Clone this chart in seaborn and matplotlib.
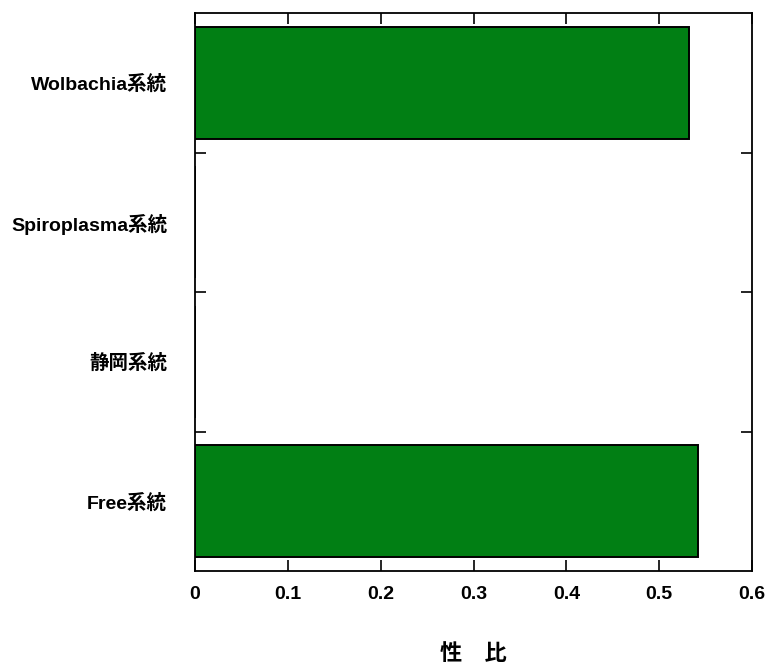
import matplotlib
matplotlib.use("Agg")
import matplotlib.pyplot as plt
import seaborn as sns
import pandas as pd
import numpy as np
from matplotlib.ticker import FixedLocator

categories = ["Wolbachia系統", "Spiroplasma系統", "静岡系統", "Free系統"]
values = [0.532, 0.0, 0.0, 0.542]
xticks = [0, 0.1, 0.2, 0.3, 0.4, 0.5, 0.6]
xticklabels = ["0", "0.1", "0.2", "0.3", "0.4", "0.5", "0.6"]
xlabel = "性　比"

sns.set_style("white")
plt.rcParams['font.family'] = ['Liberation Sans', 'Noto Sans CJK JP', 'DejaVu Sans']
plt.rcParams['text.color'] = 'black'
plt.rcParams['axes.labelcolor'] = 'black'
plt.rcParams['xtick.color'] = 'black'
plt.rcParams['ytick.color'] = 'black'

df = pd.DataFrame({"cat": categories, "val": values})

fig = plt.figure(figsize=(7.68, 6.65), dpi=100)
ax = fig.add_axes([195/768, 1-571/665, (752-195)/768, (571-13)/665])

sns.barplot(data=df, y="cat", x="val", orient="h", color="#017f14",
            saturation=1, edgecolor="black", linewidth=1.4, width=0.8, ax=ax)

ax.set_xlim(0, 0.6)
ax.set_ylim(len(categories) - 0.5, -0.5)
ax.set_xticks(xticks)
ax.set_xticklabels(xticklabels, fontsize=14, fontweight="bold")
ax.set_yticks(range(len(categories)))
ax.set_yticklabels(categories, fontsize=14, fontweight="bold")
ax.yaxis.set_minor_locator(FixedLocator([0.5, 1.5, 2.5]))

ax.tick_params(axis="y", which="major", length=0, pad=20, colors="black")
ax.tick_params(axis="y", which="minor", length=8, width=1.2, direction="in",
               left=True, right=True, color="black")
ax.tick_params(axis="x", which="major", length=8, width=1.2, direction="in",
               top=True, bottom=True, pad=11, colors="black")

for s in ax.spines.values():
    s.set_visible(True)
    s.set_color("black")
    s.set_linewidth(1.3)

ax.set_xlabel(xlabel, fontsize=16, fontweight="bold", labelpad=29, color="black")
ax.set_ylabel("")

fig.savefig("out.png", dpi=100)
